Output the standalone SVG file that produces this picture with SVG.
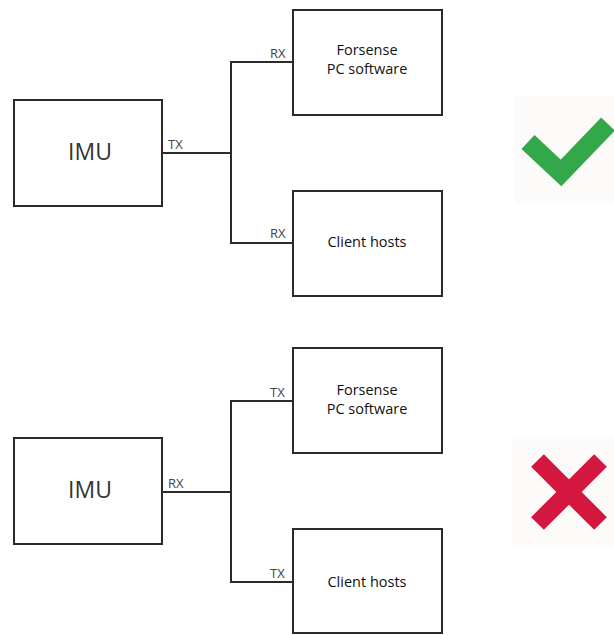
<svg xmlns="http://www.w3.org/2000/svg" width="614" height="635" viewBox="0 0 614 635">
  <style>
    .box { fill: #ffffff; stroke: #2b2b2b; stroke-width: 2; }
    .wire { fill: none; stroke: #2b2b2b; stroke-width: 2; }
    .big { font-family: "Open Sans", "Liberation Sans", sans-serif; font-size: 23px; fill: #333333; text-anchor: middle; }
    .name { font-family: "Open Sans", "Liberation Sans", sans-serif; font-size: 14.5px; fill: #111111; text-anchor: middle; }
    .pin { font-family: "Open Sans", "Liberation Sans", sans-serif; font-size: 13px; fill: #444444; }
    .iconbg { fill: #fdfafa; }
  </style>
  <rect width="614" height="635" fill="#ffffff"/>

  <!-- Top (correct) configuration -->
  <g id="imu-top">
    <rect class="box" x="14" y="100" width="148" height="106"/>
    <text class="big" x="90" y="160">IMU</text>
  </g>
  <g id="forsense-top">
    <rect class="box" x="293" y="10" width="149" height="105"/>
    <text class="name" x="367" y="55">Forsense</text>
    <text class="name" x="367" y="74">PC software</text>
  </g>
  <g id="client-top">
    <rect class="box" x="293" y="191" width="149" height="105"/>
    <text class="name" x="367" y="247">Client hosts</text>
  </g>

  <!-- Bottom (wrong) configuration -->
  <g id="imu-bottom">
    <rect class="box" x="14" y="438" width="148" height="106"/>
    <text class="big" x="90" y="498">IMU</text>
  </g>
  <g id="forsense-bottom">
    <rect class="box" x="293" y="348" width="149" height="105"/>
    <text class="name" x="367" y="395">Forsense</text>
    <text class="name" x="367" y="414">PC software</text>
  </g>
  <g id="client-bottom">
    <rect class="box" x="293" y="529" width="149" height="104"/>
    <text class="name" x="367" y="587">Client hosts</text>
  </g>

  <g id="connectors">
    <polyline class="wire" points="162,153 231,153"/>
    <polyline class="wire" points="293,62 231,62 231,243 293,243"/>
    <text class="pin" x="168" y="149">TX</text>
    <text class="pin" x="270" y="58">RX</text>
    <text class="pin" x="270" y="238">RX</text>

    <polyline class="wire" points="162,492 231,492"/>
    <polyline class="wire" points="293,401 231,401 231,582 293,582"/>
    <text class="pin" x="168" y="488">RX</text>
    <text class="pin" x="270" y="397">TX</text>
    <text class="pin" x="270" y="578">TX</text>
  </g>

  <g id="check-icon">
    <rect class="iconbg" x="515" y="96" width="99" height="108"/>
    <polyline points="528,142 561,173 608,124" fill="none" stroke="#33a84a" stroke-width="19" stroke-linejoin="miter"/>
  </g>
  <g id="cross-icon">
    <rect class="iconbg" x="512" y="437" width="102" height="108"/>
    <g stroke="#d4173f" stroke-width="18" fill="none">
      <line x1="537.5" y1="460.5" x2="600.5" y2="523.5"/>
      <line x1="600.5" y1="460.5" x2="537.5" y2="523.5"/>
    </g>
  </g>
</svg>
